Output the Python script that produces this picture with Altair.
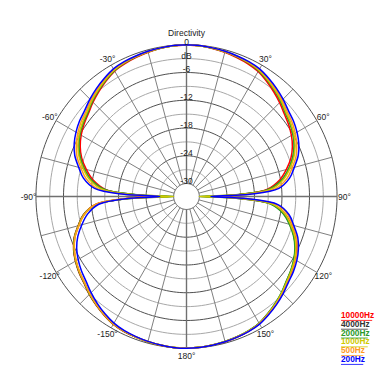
import altair as alt
import pandas as pd

# ---------------- data ----------------
FREQS = ["10000Hz", "4000Hz", "2000Hz", "1000Hz", "500Hz", "200Hz"]
COLORS = ["#ff0000", "#333333", "#2a9a2a", "#d0ca00", "#ff9a1e", "#0000ff"]

ANGLES = [0, 5, 10, 15, 20, 25, 30, 35, 40, 45, 50, 55, 60, 65, 70, 75, 80, 85, 88,
          90, 92, 95, 100, 105, 110, 115, 120, 125, 130, 135, 140, 145, 150, 155, 160, 165, 170, 175,
          180, 185, 190, 195, 200, 205, 210, 215, 220, 225, 230, 235, 240, 245, 250, 255, 260, 265, 268,
          270, 272, 275, 280, 285, 290, 295, 300, 305, 310, 315, 320, 325, 330, 335, 340, 345, 350, 355]

DB_10000 = [-0.05, -0.12, -0.3, -0.55, -0.85, -1.15, -1.6, -2.4, -3.25, -4.1, -5.0, -5.65, -6.4, -7.35, -8.6, -10.3, -12.2, -15.2, -21.0,
            -26.0, -20.5, -14.0, -11.0, -9.2, -7.6, -6.4, -5.5, -4.8, -4.15, -3.3, -2.5, -1.75, -1.05, -0.7, -0.48, -0.32, -0.18, -0.08,
            -0.05, -0.05, -0.16, -0.3, -0.45, -0.6, -0.9, -1.5, -2.15, -2.85, -3.65, -4.2, -4.85, -5.65, -6.75, -8.35, -10.0, -12.8, -19.5,
            -25.5, -20.5, -15.0, -12.1, -10.2, -8.5, -7.25, -6.3, -5.55, -4.9, -4.0, -3.15, -2.3, -1.5, -1.1, -0.8, -0.52, -0.28, -0.12]
DB_4000 = [0, -0.08, -0.24, -0.43, -0.68, -0.92, -1.34, -2.1, -2.9, -3.72, -4.62, -5.22, -5.92, -6.85, -8.1, -9.7, -11.6, -14.6, -21.5,
           -29.0, -21.8, -14.4, -11.3, -9.5, -7.9, -6.65, -5.72, -4.98, -4.35, -3.45, -2.66, -1.9, -1.16, -0.78, -0.54, -0.36, -0.21, -0.08,
           -0.05, -0.06, -0.19, -0.33, -0.48, -0.66, -0.98, -1.58, -2.26, -2.95, -3.75, -4.3, -4.95, -5.75, -6.85, -8.45, -10.1, -13.1, -20.2,
           -29.0, -21.6, -14.6, -11.6, -9.7, -8.1, -6.85, -5.92, -5.22, -4.62, -3.72, -2.9, -2.1, -1.34, -0.92, -0.68, -0.43, -0.24, -0.08]
DB_2000 = [0, -0.08, -0.25, -0.45, -0.7, -0.95, -1.38, -2.15, -2.95, -3.78, -4.7, -5.3, -6.0, -6.95, -8.2, -9.8, -11.7, -14.8, -22.0,
           -30.0, -22.0, -14.5, -11.4, -9.6, -8.0, -6.75, -5.8, -5.05, -4.4, -3.5, -2.7, -1.92, -1.18, -0.8, -0.55, -0.37, -0.22, -0.08,
           -0.05, -0.06, -0.18, -0.32, -0.47, -0.64, -0.95, -1.55, -2.22, -2.9, -3.7, -4.25, -4.9, -5.7, -6.8, -8.4, -10.0, -13.0, -20.5,
           -30.0, -22.0, -14.8, -11.7, -9.8, -8.2, -6.95, -6.0, -5.3, -4.7, -3.78, -2.95, -2.15, -1.38, -0.95, -0.7, -0.45, -0.25, -0.08]
DB_1000 = [0, -0.07, -0.22, -0.4, -0.62, -0.85, -1.25, -2.0, -2.8, -3.6, -4.5, -5.1, -5.8, -6.7, -7.9, -9.5, -11.3, -14.2, -21.0,
           -30.0, -21.5, -14.0, -11.0, -9.3, -7.7, -6.5, -5.6, -4.9, -4.25, -3.4, -2.6, -1.85, -1.12, -0.75, -0.52, -0.35, -0.2, -0.07,
           -0.05, -0.07, -0.2, -0.35, -0.5, -0.68, -1.0, -1.6, -2.3, -3.0, -3.8, -4.35, -5.0, -5.8, -6.9, -8.5, -10.2, -13.2, -20.0,
           -30.0, -21.0, -14.2, -11.3, -9.5, -7.9, -6.7, -5.8, -5.1, -4.5, -3.6, -2.8, -2.0, -1.25, -0.85, -0.62, -0.4, -0.22, -0.07]
DB_500 = [0, -0.06, -0.2, -0.36, -0.55, -0.75, -1.1, -1.8, -2.55, -3.35, -4.2, -4.75, -5.45, -6.3, -7.4, -9.0, -10.6, -13.3, -19.8,
          -26.0, -20.0, -13.2, -10.4, -8.9, -7.3, -6.15, -5.3, -4.6, -4.0, -3.2, -2.45, -1.75, -1.05, -0.7, -0.5, -0.33, -0.19, -0.06,
          -0.02, -0.06, -0.19, -0.34, -0.5, -0.68, -1.0, -1.62, -2.32, -3.05, -3.85, -4.38, -5.05, -5.85, -6.95, -8.55, -10.1, -12.8, -19.0,
          -26.5, -19.8, -13.3, -10.6, -9.0, -7.4, -6.3, -5.45, -4.75, -4.2, -3.35, -2.55, -1.8, -1.1, -0.75, -0.55, -0.36, -0.2, -0.06]
DB_200 = [0, -0.05, -0.18, -0.32, -0.48, -0.65, -0.95, -1.6, -2.3, -3.05, -3.85, -4.35, -5.0, -5.8, -6.9, -8.5, -10.0, -12.6, -19.0,
          -27.5, -19.5, -12.8, -10.1, -8.6, -7.0, -5.9, -5.05, -4.4, -3.85, -3.05, -2.3, -1.6, -0.95, -0.62, -0.45, -0.3, -0.17, -0.05,
          0, -0.06, -0.2, -0.38, -0.58, -0.8, -1.2, -1.85, -2.6, -3.4, -4.25, -4.85, -5.55, -6.4, -7.6, -9.2, -10.9, -13.6, -19.5,
          -27.0, -19.2, -12.7, -10.0, -8.5, -6.9, -5.8, -5.0, -4.35, -3.85, -3.05, -2.3, -1.6, -0.95, -0.65, -0.48, -0.32, -0.18, -0.05]
SERIES = [DB_10000, DB_4000, DB_2000, DB_1000, DB_500, DB_200]
DRAW_ORDER = ["4000Hz", "10000Hz", "2000Hz", "1000Hz", "500Hz", "200Hz"]

RING_LEVELS = [0, -3, -6, -9, -12, -15, -18, -21, -24, -27, -30]
SPOKE_ANGLES = list(range(0, 360, 15))
ANGLE_LABEL_VALUES = [-150, -120, -90, -60, -30, 30, 60, 90, 120, 150, 180]
DB_LABEL_LEVELS = [0, -3, -6, -12, -18, -24, -30]
DB_LABEL_TEXT = ["0", "dB", "-6", "-12", "-18", "-24", "-30"]
TITLE = "Directivity"

# ---------------- layout ----------------
OFF = 32.8          # radius (units) of the 0 dB ring; -30 dB ring at 2.8
W, H = 372, 362
KX, KY = 4.59, 4.627
CX, CY = 178.5, 188.5
XS = alt.Scale(domain=[-CX / KX, (W - CX) / KX], nice=False, zero=False)
YS = alt.Scale(domain=[-(H - CY) / KY, CY / KY], nice=False, zero=False)
FONT = "Liberation Sans"
LABEL_R = 34.4
TITLE_R = 35.4
LEG_X = 33.66
LEG_Y0 = -25.83
LEG_DY = 1.902

cscale = alt.Scale(domain=FREQS, range=COLORS)


def X(f="x"):
    return alt.X(f + ":Q", scale=XS, axis=None)


def Y(f="y"):
    return alt.Y(f + ":Q", scale=YS, axis=None)


# rings
ring_rows = []
for lvl in RING_LEVELS:
    for a in range(0, 362, 2):
        ring_rows.append({"lvl": lvl, "a": a})
rings_df = pd.DataFrame(ring_rows)
ring_base = alt.Chart(rings_df).transform_calculate(
    r=f"datum.lvl + {OFF}",
    x="datum.r * sin(datum.a * PI / 180)",
    y="datum.r * cos(datum.a * PI / 180)",
)
rings_light = ring_base.transform_filter("datum.lvl % 6 != 0").mark_line(
    color="#a8a8a8", strokeWidth=1
).encode(x=X(), y=Y(), detail="lvl:N", order="a:Q")
rings_dark = ring_base.transform_filter("datum.lvl % 6 == 0").mark_line(
    color="#505050", strokeWidth=1
).encode(x=X(), y=Y(), detail="lvl:N", order="a:Q")

# spokes
spk = alt.Chart(pd.DataFrame({"a": SPOKE_ANGLES})).transform_calculate(
    x=f"{OFF - 30} * sin(datum.a * PI / 180)",
    y=f"{OFF - 30} * cos(datum.a * PI / 180)",
    x2=f"{OFF} * sin(datum.a * PI / 180)",
    y2=f"{OFF} * cos(datum.a * PI / 180)",
)
spokes = spk.transform_filter("datum.a % 90 != 0").mark_rule(color="#808080", strokeWidth=1).encode(
    x=X(), y=Y(), x2="x2:Q", y2="y2:Q")
axes_sp = spk.transform_filter("datum.a % 90 == 0").mark_rule(color="#707070", strokeWidth=1.4).encode(
    x=X(), y=Y(), x2="x2:Q", y2="y2:Q")

# series
rows = []
for f, vals in zip(FREQS, SERIES):
    for a, v in zip(ANGLES + [360], vals + [vals[0]]):
        rows.append({"freq": f, "ang": a, "db": v})
series_df = pd.DataFrame(rows)
line_layers = []
for f in DRAW_ORDER:
    line_layers.append(
        alt.Chart(series_df)
        .transform_filter(alt.datum.freq == f)
        .transform_calculate(
            r=f"max(datum.db, -30) + {OFF}",
            x="datum.r * sin(datum.ang * PI / 180)",
            y="datum.r * cos(datum.ang * PI / 180)",
        )
        .mark_line(strokeWidth=1.5, interpolate="catmull-rom")
        .encode(x=X(), y=Y(), order="ang:Q",
                color=alt.Color("freq:N", scale=cscale, legend=None))
    )

# angle labels
ang_df = pd.DataFrame({"a": ANGLE_LABEL_VALUES,
                       "label": [f"{v}°" for v in ANGLE_LABEL_VALUES]})
ang_labels = alt.Chart(ang_df).transform_calculate(
    x=f"{LABEL_R} * sin(datum.a * PI / 180)",
    y=f"{LABEL_R} * cos(datum.a * PI / 180)",
).mark_text(font=FONT, fontSize=8.5, color="#222222", baseline="middle", align="center").encode(
    x=X(), y=Y(), text="label:N")

# dB labels
db_df = pd.DataFrame({"lvl": DB_LABEL_LEVELS, "label": DB_LABEL_TEXT})
db_labels = alt.Chart(db_df).transform_calculate(
    x="0", y=f"datum.lvl + {OFF}"
).mark_text(font=FONT, fontSize=8.5, color="#222222", baseline="alphabetic", align="center").encode(
    x=X(), y=Y(), text="label:N")

# title
title = alt.Chart(pd.DataFrame({"t": [TITLE]})).transform_calculate(
    x="0", y=f"{TITLE_R}"
).mark_text(font=FONT, fontSize=8.5, color="#222222", baseline="middle", align="center").encode(
    x=X(), y=Y(), text="t:N")

# legend (coloured labels, underlined)
leg_df = pd.DataFrame({"freq": FREQS, "i": list(range(len(FREQS)))})
leg_base = alt.Chart(leg_df).transform_calculate(
    x=f"{LEG_X}",
    y=f"{LEG_Y0} - datum.i * {LEG_DY}",
    x2=f"{LEG_X} + length(datum.freq) * 0.97",
    yu=f"{LEG_Y0} - datum.i * {LEG_DY} - 0.95",
)
leg_text = leg_base.mark_text(font=FONT, fontSize=8.3, fontWeight="bold", align="left",
                              baseline="middle").encode(
    x=X(), y=Y(), text="freq:N", color=alt.Color("freq:N", scale=cscale, legend=None))
leg_line = leg_base.mark_rule(strokeWidth=0.8).encode(
    x=X(), x2="x2:Q", y=Y("yu"), color=alt.Color("freq:N", scale=cscale, legend=None))

chart = alt.layer(
    rings_light, rings_dark, spokes, axes_sp, *line_layers,
    ang_labels, db_labels, title, leg_text, leg_line
).properties(
    width=W, height=H, padding=0, autosize=alt.AutoSizeParams(type="none")
).configure_view(strokeWidth=0)

chart.save("out.html", embed_options={"renderer": "svg", "actions": False})
